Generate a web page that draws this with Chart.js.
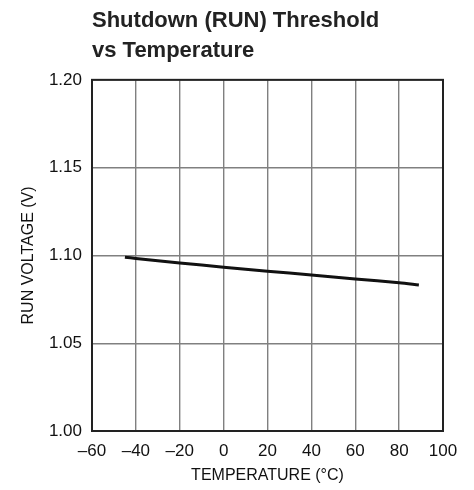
<!DOCTYPE html>
<html>
<head>
<meta charset="utf-8">
<script src="https://cdn.jsdelivr.net/npm/chart.js@4/dist/chart.umd.min.js"></script>
<style>
  html, body { margin: 0; padding: 0; background: #fff; }
  #wrap { width: 474px; height: 490px; }
</style>
</head>
<body>
<div id="wrap"><canvas id="grafico"></canvas></div>
<script>
// datos
var temperaturas = [-45, -40, -20, 0, 20, 40, 60, 80, 89];
var voltajes = [1.0990, 1.0983, 1.0957, 1.0933, 1.0910, 1.0889, 1.0866, 1.0845, 1.0832];
var titulo = ['Shutdown (RUN) Threshold', 'vs Temperature'];
var titulo_x = 'TEMPERATURE (°C)';
var titulo_y = 'RUN VOLTAGE (V)';

var FUENTE = '"Liberation Sans", Arial, sans-serif';

var puntos = [];
for (var i = 0; i < temperaturas.length; i++) {
    puntos.push({x: temperaturas[i], y: voltajes[i]});
}

function guion(v) {
    return String(v).replace('-', '\u2013');
}

var canvas_ref = document.getElementById('grafico');
var grafico = new Chart(canvas_ref, {
    type: 'line',
    data: {
        datasets: [{
            data: puntos,
            borderColor: '#111',
            borderWidth: 3,
            pointRadius: 0,
            tension: 0.3,
            fill: false
        }]
    },
    options: {
        responsive: true,
        maintainAspectRatio: false,
        animation: false,
        layout: { padding: { left: 19, right: 31, top: 0, bottom: 0 } },
        plugins: {
            legend: { display: false },
            tooltip: { enabled: false },
            title: {
                display: true,
                text: titulo,
                align: 'start',
                fullSize: false,
                color: '#222',
                font: { family: FUENTE, size: 22, weight: 'bold', lineHeight: 1.36 },
                padding: { top: 6, bottom: 14 }
            }
        },
        scales: {
            x: {
                type: 'linear',
                min: -60,
                max: 100,
                afterFit: function (eje) { eje.height = 59; },
                ticks: {
                    stepSize: 20,
                    color: '#111',
                    padding: 10,
                    maxRotation: 0,
                    font: { family: FUENTE, size: 17 },
                    callback: function (v) { return guion(v); }
                },
                grid: { color: '#808080', lineWidth: 1.4, drawTicks: false },
                border: { color: '#222', width: 2 },
                title: {
                    display: true,
                    text: titulo_x,
                    color: '#111',
                    font: { family: FUENTE, size: 16 },
                    padding: { top: 0, bottom: 5 }
                }
            },
            y: {
                min: 1.00,
                max: 1.20,
                afterFit: function (eje) { eje.width = 73; },
                ticks: {
                    stepSize: 0.05,
                    color: '#111',
                    padding: 10,
                    font: { family: FUENTE, size: 17 },
                    callback: function (v) { return v.toFixed(2); }
                },
                grid: { color: '#808080', lineWidth: 1.4, drawTicks: false },
                border: { color: '#222', width: 2 },
                title: {
                    display: true,
                    text: titulo_y,
                    color: '#111',
                    font: { family: FUENTE, size: 16 },
                    padding: 0
                }
            }
        }
    },
    plugins: [{
        // cerrar el recuadro por arriba y a la derecha
        id: 'marco',
        afterDraw: function (chart) {
            var a = chart.chartArea;
            var ctx = chart.ctx;
            ctx.save();
            ctx.strokeStyle = '#222';
            ctx.lineWidth = 2;
            ctx.strokeRect(a.left, a.top, a.right - a.left, a.bottom - a.top);
            ctx.restore();
        }
    }]
});
</script>
</body>
</html>
